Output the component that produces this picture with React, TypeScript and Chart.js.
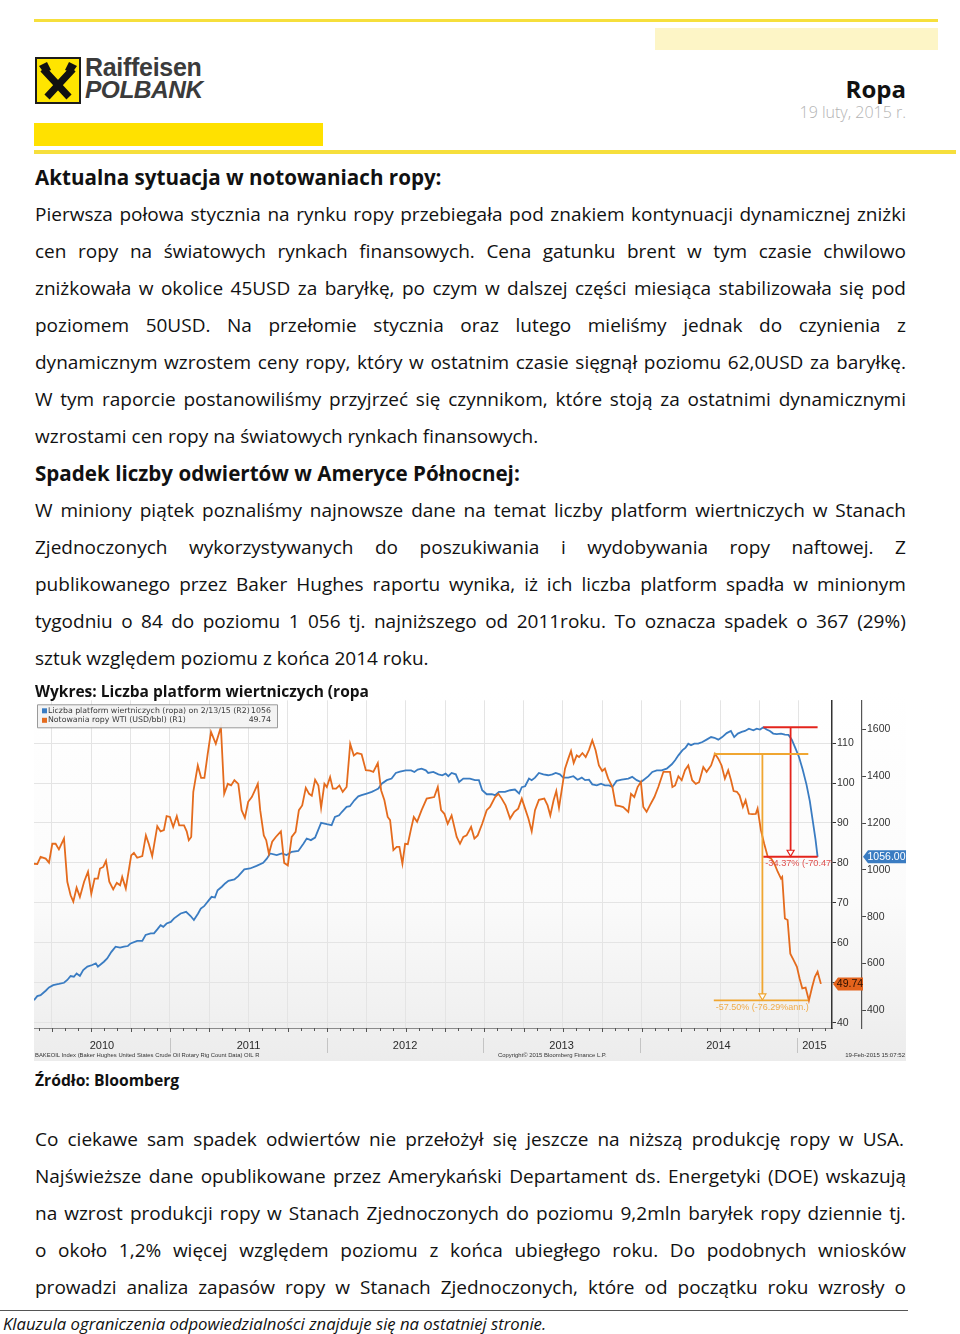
import { useEffect, useRef } from "react";
import { Chart, registerables } from "chart.js";
Chart.register(...registerables);

// ---------------- chart data (x = weeks since mid-Feb 2010) ----------------
const wtiWeeks = [
  0, 1.1, 2.2, 3.9, 5, 6.1, 7.2, 8.3, 10, 11.1, 12.2, 13.1, 14.2, 15.3, 16.7, 18, 19.1, 20.2, 21.3, 22, 23.1, 24, 25.1, 26.4, 27.6, 28.7, 29.4, 30.6, 32.4, 33.3, 34.4, 36.1, 37.3, 38.3, 39.4, 41.1, 42.2, 43.3, 44.2, 45.3, 46.4, 47.6, 48.4, 50, 50.9, 51.6, 52.4, 53.1,
  54.6, 55.7, 56.8, 57.9, 59, 60.6, 62.3, 63.4, 64.6, 65.7, 66.8, 68.1, 69.2, 70.3, 71.4, 72.6, 73.4, 74.6, 75.4, 76.6, 77.4, 78.3, 79.4, 80.6, 82.3, 83.4, 84.6, 85.9, 87.2, 88.3, 89.4, 90.6, 91.7, 92.6, 93.7, 94.8, 95.7, 96.8, 97.6, 98.7, 99.6, 100.7, 101.8, 102.9, 104.2, 105.4, 106.6, 107.7, 109.2,
  110.6, 112, 113.1, 114.6, 115.7, 116.8, 117.9, 118.7, 119.8, 120.9, 121.8, 122.8, 123.7, 124.6, 125.7, 126.6, 127.7, 129.2, 130.9, 132, 133.4, 134.6, 135.7, 136.8, 137.9, 139.2, 140.9, 142, 143.1, 144.2, 145.7, 146.8, 147.9, 149.4, 150.9, 152, 153.7, 154.8, 155.9, 157.2, 158.7, 160.1, 161.4, 162.6, 163.7,
  164.8, 165.9, 167, 168.3, 170.1, 171.2, 172.1, 173.2, 174.1, 175, 175.9, 177, 178.1, 179, 179.9, 180.9, 181.7, 182.8, 183.9, 185, 186.1, 187.2, 188.3, 189.4, 190.3, 191.4, 192.8, 193.9, 195.3, 196.4, 198.1, 199, 200.1, 201.2, 202.3, 203.1, 204.2, 205.3, 206.8, 208.1, 209.8, 211.2, 212, 212.8, 213.7,
  214.8, 215.9, 217, 218.1, 219.4, 220.6, 221.7, 223.1, 224.2, 225.7, 227, 228.1, 229.2, 230.3, 231.4, 232.3, 233.2, 234.3, 235.2, 236.3, 237.2, 238.3, 239.4, 240.6, 241.2, 242.3, 243.4, 244.6, 245.7, 246.8, 247.9, 249, 249.4, 250.3, 251.2, 252.1, 253.2, 254.3, 255.2, 256.1, 257.2, 258.3, 259.4, 260.3, 261.2, 262.3,
];
const wtiPrices = [
  79.8, 79.7, 81.5, 81.1, 80.1, 84.8, 84.8, 83.4, 86.1, 75.3, 71.9, 70.3, 73.8, 71.5, 75.3, 77.8, 72.3, 76.1, 76.1, 78.6, 79, 80.5, 75.3, 73.4, 75, 74.4, 76.5, 73.6, 81.9, 82.5, 81.3, 81.7, 86.9, 84.7, 81.7, 89.2, 87.9, 88.2, 91.7, 91.5, 89, 91.7, 89.4, 89.4, 87.9, 85.7, 86.5, 97.8,
  104.4, 101.3, 101.3, 107.3, 112.8, 109.8, 114, 97.3, 99.8, 99.4, 100.7, 99.8, 93.2, 91.3, 95.3, 96.5, 97.8, 99.8, 93.2, 86.9, 85.7, 82.3, 85.3, 86.5, 87.9, 80, 79.4, 86.5, 87.8, 93.2, 94.4, 98.8, 97.3, 96.8, 100.8, 99.4, 93.8, 99.8, 99, 101.5, 98.6, 98.6, 99.4, 97.8, 99, 109.8, 106.9, 107.5, 107.2,
  103.2, 103.1, 102.8, 105, 98.2, 95.7, 91.5, 90.7, 83.2, 84, 84, 79.8, 84.8, 84.7, 88.6, 91.5, 90.3, 93.2, 96.1, 96.3, 96.5, 99, 93.2, 92.3, 89.8, 91.9, 86.5, 84.8, 86.5, 86.9, 89, 86.1, 86.9, 89.8, 93.2, 94, 96.5, 97.3, 96.1, 94.4, 91.1, 92.8, 93.6, 96.1, 93.6,
  91.1, 87.9, 93.2, 95.8, 96.1, 94.4, 91.9, 95.7, 98, 93.8, 98.2, 103.6, 106.1, 108, 105, 106.9, 106.5, 107.5, 106.5, 108.3, 110.7, 108.2, 104.4, 103, 103.6, 101.1, 99, 94.4, 94.2, 94, 92.8, 97.3, 96.5, 99, 100.3, 94, 92.8, 94.4, 96.5, 99, 102.8, 102.8, 102.8, 99, 99.4,
  101.7, 100.7, 103.2, 104.4, 100.7, 99.8, 100.2, 104, 102.8, 104.4, 107.3, 106.1, 104.4, 101.1, 103.2, 100.8, 98, 97.8, 96.9, 94, 95.7, 92.3, 92.2, 92.3, 93.6, 88.2, 84.8, 81.5, 81.1, 79.8, 77.8, 76.1, 76.5, 66.1, 65.7, 57.3, 55.7, 54, 51.1, 48.6, 48.8, 45.6, 49, 51.5, 52.8, 49.74,
];
const rigWeeks = [
  0, 1.1, 2.2, 3.9, 5, 6.4, 8.3, 10, 11.1, 12.2, 13.3, 14.2, 15.3, 16.4, 17.8, 19.4, 20.6, 21.3, 23.3, 24.4, 25.8, 27.2, 28.7, 30, 31.3, 32.2, 34.4, 36.1, 37.2, 38.9, 40, 41.1, 42.2, 43.1, 44.2, 45.6, 46.7, 48.9, 50.7, 52.2, 53.3, 54.7, 55.6, 56.7,
  58.3, 59.2, 60.3, 61.2, 62.6, 63.7, 64.8, 66.8, 68.1, 70.1, 72, 74.2, 76.4, 77.6, 78.7, 80.9, 82.6, 84.2, 85.9, 88.1, 89.8, 90.9, 92.3, 93.7, 95.7, 97.6, 99.2, 100.3, 101.7, 102.6, 104.2, 105.3, 106.8,
  108.1, 109.2, 110.9, 112.6, 113.7, 114.8, 115.9, 117.6, 119.2, 120.6, 122, 123.9, 125.7, 126.8, 127.9, 129.2, 130.6, 131.4, 133.1, 134.8, 136.1, 137.2, 138.1, 139.2, 140.6, 141.7, 143.1, 145.3, 147, 148.3, 149.4, 150.9, 152.6, 153.7, 155, 157, 158.7, 160.3, 161.7, 162.6, 163.7,
  165, 165.9, 167, 168.3, 169.8, 171.4, 172.8, 173.9, 175.3, 176.4, 178.1, 179.8, 181.2, 182.6, 183.7, 185, 186.1, 187.6, 189, 190.3, 191.7, 192.8, 194.2, 195.9, 198.1, 199.4, 200.9, 202.3, 203.1, 204.8, 206.1, 207.6, 209.2, 210.9, 212.6, 213.7,
  214.8, 216.1, 217.2, 218.1, 219, 220.1, 221.4, 222.8, 224.2, 225.7, 226.8, 228.1, 229.4, 230.9, 232.3, 233.4, 234.6, 235.9, 237, 238.3, 239.8, 240.9, 242, 243.1, 244.2, 245.3, 246.4, 247.6, 249, 250.3, 251.5, 252.6, 253.9, 255, 256.2, 257.5, 258.6, 259.7, 260.5, 261.2,
];
const rigCounts = [
  444, 461, 465, 484, 498, 508, 513, 518, 530, 547, 544, 558, 547, 572, 587, 594, 601, 587, 608, 622, 650, 672, 668, 672, 675, 686, 697, 697, 722, 729, 729, 746, 764, 757, 771, 778, 793, 814, 821, 803, 786, 814, 835, 845,
  871, 885, 882, 913, 928, 942, 953, 959, 973, 1002, 1006, 1017, 1030, 1048, 1070, 1063, 1070, 1063, 1077, 1081, 1112, 1134, 1127, 1138, 1201, 1195, 1191, 1226, 1233, 1247, 1269, 1272, 1297,
  1314, 1319, 1326, 1333, 1340, 1347, 1368, 1383, 1390, 1414, 1419, 1425, 1425, 1418, 1428, 1432, 1425, 1414, 1418, 1408, 1404, 1411, 1400, 1414, 1408, 1375, 1390, 1390, 1383, 1383, 1340, 1323, 1323, 1319, 1333, 1333, 1340, 1343, 1326, 1353, 1357,
  1390, 1383, 1394, 1414, 1408, 1404, 1408, 1414, 1408, 1394, 1394, 1400, 1385, 1394, 1383, 1385, 1365, 1361, 1368, 1361, 1361, 1354, 1380, 1385, 1390, 1397, 1383, 1375, 1383, 1400, 1418, 1425, 1425, 1432, 1451, 1468,
  1489, 1510, 1522, 1539, 1532, 1539, 1539, 1546, 1556, 1567, 1564, 1556, 1567, 1584, 1593, 1567, 1582, 1589, 1593, 1603, 1596, 1603, 1599, 1609, 1599, 1593, 1582, 1580, 1582, 1577, 1576, 1556, 1517, 1482, 1430, 1364, 1294, 1200, 1130, 1056,
];

const yearLabels = ["2010", "2011", "2012", "2013", "2014", "2015"];
const yearStartWeeks = [45.3, 97.7, 149.7, 202.0, 254.3];
const wtiTicks = [40, 50, 60, 70, 80, 90, 100, 110];
const rigTicks = [400, 600, 800, 1000, 1200, 1400, 1600];
const legendLabels = ["Liczba platform wiertniczych (ropa) on 2/13/15 (R2)", "Notowania ropy WTI (USD/bbl) (R1)"];
const legendValues = ["1056", "49.74"];
const lastTags = ["1056.00", "49.74"];
const rigDrop = [1609, 1056]; // high, low
const rigDropWeeks = [243.1, 261.2, 252.2]; // from, to, arrow
const rigDropLabel = "-34.37% (-70.47%ann.)";
const wtiDrop = [107.26, 45.59];
const wtiDropWeeks = [226.6, 258.1, 242.8];
const wtiDropLabel = "-57.50% (-76.29%ann.)";
const footerTexts = [
  "BAKEOIL Index (Baker Hughes United States Crude Oil Rotary Rig Count Data) OIL R",
  "Copyright\u00a9 2015 Bloomberg Finance L.P.",
  "19-Feb-2015 15:07:52",
];

const BLUE = "#3a7cc2";
const ORANGE = "#e46b1d";
const RED = "#e3241c";
const GOLD = "#f0a631";

function fitFont(ctx: CanvasRenderingContext2D, text: string, target: number, family: string, weight = "") {
  ctx.font = `${weight} 10px ${family}`;
  const w = ctx.measureText(text).width;
  const size = (10 * target) / w;
  ctx.font = `${weight} ${size}px ${family}`;
  return size;
}

const decor = {
  id: "decor",
  beforeDraw(chart: any) {
    const { ctx, width, height } = chart;
    ctx.save();
    const g = ctx.createLinearGradient(0, 0, 0, height);
    g.addColorStop(0, "#ffffff");
    g.addColorStop(0.55, "#fbfbfb");
    g.addColorStop(1, "#ececec");
    ctx.fillStyle = g;
    ctx.fillRect(0, 0, width, height);
    ctx.restore();
  },
  afterDatasetsDraw(chart: any) {
    const { ctx, chartArea: ca } = chart;
    const x = chart.scales.x, y1 = chart.scales.y1, y2 = chart.scales.y2;
    const tri = (px: number, pyb: number, color: string) => {
      ctx.beginPath();
      ctx.moveTo(px - 3.5, pyb - 6);
      ctx.lineTo(px + 3.5, pyb - 6);
      ctx.lineTo(px, pyb);
      ctx.closePath();
      ctx.fillStyle = "#fff";
      ctx.fill();
      ctx.strokeStyle = color;
      ctx.lineWidth = 1.2;
      ctx.stroke();
    };
    const bracket = (top: number, bot: number, w0: number, w1: number, wa: number, color: string, label: string, labelColor: string, fitChars: number, fitW: number) => {
      const x0 = x.getPixelForValue(w0), x1 = x.getPixelForValue(w1), xa = x.getPixelForValue(wa);
      ctx.save();
      ctx.strokeStyle = color;
      ctx.lineWidth = 1.8;
      ctx.beginPath();
      ctx.moveTo(x0, top); ctx.lineTo(x1, top);
      ctx.moveTo(x0, bot); ctx.lineTo(x1, bot);
      ctx.moveTo(xa, top); ctx.lineTo(xa, bot - 5);
      ctx.stroke();
      tri(xa, bot - 0.5, color);
      ctx.beginPath();
      ctx.rect(ca.left, ca.top, ca.right - ca.left, ca.bottom - ca.top);
      ctx.clip();
      fitFont(ctx, label.slice(0, fitChars), fitW, "'Liberation Sans'");
      ctx.fillStyle = labelColor;
      ctx.textBaseline = "top";
      ctx.fillText(label, x0 + 2, bot + 2.5);
      ctx.restore();
    };
    bracket(y2.getPixelForValue(rigDrop[0]), y2.getPixelForValue(rigDrop[1]), rigDropWeeks[0], rigDropWeeks[1], rigDropWeeks[2], RED, rigDropLabel, "#e0504e", 15, 66);
    bracket(y1.getPixelForValue(wtiDrop[0]), y1.getPixelForValue(wtiDrop[1]), wtiDropWeeks[0], wtiDropWeeks[1], wtiDropWeeks[2], GOLD, wtiDropLabel, "#f0ac4a", 21, 93);
  },
  afterDraw(chart: any) {
    const { ctx, chartArea: ca, width } = chart;
    const x = chart.scales.x, y1 = chart.scales.y1, y2 = chart.scales.y2;
    ctx.save();
    // monthly tick marks under the time axis
    ctx.strokeStyle = "#555";
    ctx.lineWidth = 1;
    const perMonth = (yearStartWeeks[1] - yearStartWeeks[0]) / 12;
    for (let k = -12; k <= 12 * 5; k++) {
      const w = yearStartWeeks[0] + k * perMonth;
      if (w < x.min || w > x.max) continue;
      const px = Math.round(x.getPixelForValue(w)) + 0.5;
      ctx.beginPath();
      ctx.moveTo(px, ca.bottom);
      ctx.lineTo(px, ca.bottom + (k % 3 === 0 ? 4 : 3));
      ctx.stroke();
    }
    // year separators and labels
    ctx.strokeStyle = "#c4c4c4";
    yearStartWeeks.forEach((w) => {
      const px = Math.round(x.getPixelForValue(w)) + 0.5;
      ctx.beginPath();
      ctx.moveTo(px, ca.bottom + 10);
      ctx.lineTo(px, ca.bottom + 25);
      ctx.stroke();
    });
    const bounds = [x.min, ...yearStartWeeks, x.max];
    ctx.fillStyle = "#2a2a2a";
    ctx.font = "11px 'Liberation Sans'";
    ctx.textAlign = "center";
    ctx.textBaseline = "middle";
    yearLabels.forEach((lab, i) => {
      const c = (bounds[i] + bounds[i + 1]) / 2;
      ctx.fillText(lab, x.getPixelForValue(c), ca.bottom + 17.5);
    });
    // footer texts
    ctx.textAlign = "left";
    ctx.fillStyle = "#333";
    fitFont(ctx, footerTexts[0], 225, "'Liberation Sans'");
    ctx.fillText(footerTexts[0], 1, ca.bottom + 27.5);
    fitFont(ctx, footerTexts[1], 109, "'Liberation Sans'");
    ctx.fillText(footerTexts[1], 464, ca.bottom + 27.5);
    fitFont(ctx, footerTexts[2], 60, "'Liberation Sans'");
    ctx.textAlign = "right";
    ctx.fillText(footerTexts[2], width - 1, ca.bottom + 27.5);

    // last value tags
    const tag = (x0: number, x1: number, yc: number, h: number, fill: string, text: string, color: string) => {
      ctx.beginPath();
      ctx.moveTo(x0, yc);
      ctx.lineTo(x0 + 5, yc - h / 2);
      ctx.lineTo(x1, yc - h / 2);
      ctx.lineTo(x1, yc + h / 2);
      ctx.lineTo(x0 + 5, yc + h / 2);
      ctx.closePath();
      ctx.fillStyle = fill;
      ctx.fill();
      ctx.fillStyle = color;
      ctx.font = "10.5px 'Liberation Sans'";
      ctx.textAlign = "center";
      ctx.textBaseline = "middle";
      ctx.fillText(text, (x0 + 4 + x1) / 2, yc + 0.5);
    };
    tag(y2.left + 1, width, y2.getPixelForValue(rigDrop[1]), 13, BLUE, lastTags[0], "#ffffff");
    tag(y1.left + 1, y1.right + 1, y1.getPixelForValue(wtiPrices[wtiPrices.length - 1]), 13, "#e4631c", lastTags[1], "#2b1000");

    // legend box
    const bx = 3, by = ca.top + 4, bw = 240, bh = 23;
    ctx.fillStyle = "rgba(242,242,242,0.93)";
    ctx.strokeStyle = "#9a9a9a";
    ctx.lineWidth = 1;
    ctx.beginPath();
    ctx.rect(bx + 0.5, by + 0.5, bw, bh);
    ctx.fill();
    ctx.stroke();
    ctx.textAlign = "left";
    ctx.textBaseline = "middle";
    const fs = fitFont(ctx, legendLabels[0], 202, "'DejaVu Sans'");
    const rows = [by + 6.5, by + 16];
    [BLUE, ORANGE].forEach((c, i) => {
      ctx.fillStyle = c;
      ctx.fillRect(bx + 5, rows[i] - 2.5, 5, 5);
      ctx.fillStyle = "#3a3a3a";
      ctx.font = `${fs}px 'DejaVu Sans'`;
      ctx.textAlign = "left";
      ctx.fillText(legendLabels[i], bx + 11, rows[i]);
      ctx.textAlign = "right";
      ctx.fillText(legendValues[i], bx + bw - 6, rows[i]);
    });
    ctx.restore();
  },
};

// ---------------- page text ----------------
const para1 = [
  "Pierwsza połowa stycznia na rynku ropy przebiegała pod znakiem kontynuacji dynamicznej zniżki",
  "cen ropy na światowych rynkach finansowych. Cena gatunku brent w tym czasie chwilowo",
  "zniżkowała w okolice 45USD za baryłkę, po czym w dalszej części miesiąca stabilizowała się pod",
  "poziomem 50USD. Na przełomie stycznia oraz lutego mieliśmy jednak do czynienia z",
  "dynamicznym wzrostem ceny ropy, który w ostatnim czasie sięgnął poziomu 62,0USD za baryłkę.",
  "W tym raporcie postanowiliśmy przyjrzeć się czynnikom, które stoją za ostatnimi dynamicznymi",
  "wzrostami cen ropy na światowych rynkach finansowych.",
];
const para2 = [
  "W miniony piątek poznaliśmy najnowsze dane na temat liczby platform wiertniczych w Stanach",
  "Zjednoczonych wykorzystywanych do poszukiwania i wydobywania ropy naftowej. Z",
  "publikowanego przez Baker Hughes raportu wynika, iż ich liczba platform spadła w minionym",
  "tygodniu o 84 do poziomu 1 056 tj. najniższego od 2011roku. To oznacza spadek o 367 (29%)",
  "sztuk względem poziomu z końca 2014 roku.",
];
const para3 = [
  "Co ciekawe sam spadek odwiertów nie przełożył się jeszcze na niższą produkcję ropy w USA.",
  "Najświeższe dane opublikowane przez Amerykański Departament ds. Energetyki (DOE) wskazują",
  "na wzrost produkcji ropy w Stanach Zjednoczonych do poziomu 9,2mln baryłek ropy dziennie tj.",
  "o około 1,2% więcej względem poziomu z końca ubiegłego roku. Do podobnych wniosków",
  "prowadzi analiza zapasów ropy w Stanach Zjednoczonych, które od początku roku wzrosły o",
];

const FONT = "'Open Sans', sans-serif";

function TextLine({ text, y, justify, width = 871 }: { text: string; y: number; justify: boolean; width?: number }) {
  const base: any = { position: "absolute", left: 35, top: y - 15, height: 30, lineHeight: "30px", fontSize: 19, whiteSpace: "nowrap" };
  if (!justify) return <div style={base}>{text}</div>;
  return (
    <div style={{ ...base, width, display: "flex", justifyContent: "space-between" }}>
      {text.split(" ").map((w, i) => (
        <span key={i}>{w}</span>
      ))}
    </div>
  );
}

function Paragraph({ lines, y0, lastJustified }: { lines: string[]; y0: number; lastJustified: boolean }) {
  return (
    <>
      {lines.map((t, i) => (
        <TextLine key={i} text={t} y={y0 + i * 37} justify={i < lines.length - 1 || lastJustified} width={i === 0 && y0 > 1100 ? 869 : 871} />
      ))}
    </>
  );
}

function Logo() {
  return (
    <div style={{ position: "absolute", left: 35, top: 57, width: 180, height: 48 }}>
      <svg width="46" height="47" viewBox="0 0 46 47" style={{ position: "absolute", left: 0, top: 0 }}>
        <rect x="1" y="1" width="44" height="45" fill="#ffe500" stroke="#1c1c1c" strokeWidth="2" />
        <path d="M8 12 L34 40 M38 12 L12 40" stroke="#111" strokeWidth="7" strokeLinecap="butt" />
        <path d="M4 9 L12 5 L16 13 L9 16 Z M42 9 L34 5 L30 13 L37 16 Z" fill="#111" />
      </svg>
      <div style={{ position: "absolute", left: 50, top: -4, fontFamily: "'Liberation Sans'", fontWeight: 700, fontSize: 25, color: "#3b3b3b", lineHeight: "28px", letterSpacing: -0.3 }}>Raiffeisen</div>
      <div style={{ position: "absolute", left: 50, top: 19, fontFamily: "'Liberation Sans'", fontWeight: 700, fontStyle: "italic", fontSize: 24.5, color: "#3b3b3b", lineHeight: "28px", letterSpacing: -0.5 }}>POLBANK</div>
    </div>
  );
}

export default function App() {
  const ref = useRef<HTMLCanvasElement>(null);
  useEffect(() => {
    const chart = new Chart(ref.current as HTMLCanvasElement, {
      type: "line",
      data: {
        datasets: [
          {
            label: legendLabels[1],
            data: wtiWeeks.map((w, i) => ({ x: w, y: wtiPrices[i] })),
            yAxisID: "y1",
            borderColor: ORANGE,
            borderWidth: 1.8,
            pointRadius: 0,
            tension: 0,
          },
          {
            label: legendLabels[0],
            data: rigWeeks.map((w, i) => ({ x: w, y: rigCounts[i] })),
            yAxisID: "y2",
            borderColor: BLUE,
            borderWidth: 1.8,
            pointRadius: 0,
            tension: 0,
          },
        ],
      },
      options: {
        animation: false,
        responsive: false,
        layout: { padding: { top: 7, left: 0, right: 0, bottom: 0 } },
        plugins: { legend: { display: false }, tooltip: { enabled: false } },
        scales: {
          x: {
            type: "linear",
            min: 0,
            max: 266,
            afterBuildTicks: (s: any) => {
              const q = (yearStartWeeks[1] - yearStartWeeks[0]) / 4;
              const t: any[] = [];
              for (let k = -4; k <= 20; k++) {
                const v = yearStartWeeks[0] + k * q;
                if (v > 0.5 && v < 265.5) t.push({ value: v });
              }
              s.ticks = t;
            },
            grid: { color: "#e4e4e4", drawTicks: false },
            border: { color: "#8a8a8a" },
            ticks: { display: false },
            afterFit: (s: any) => {
              s.height = 33;
            },
          },
          y1: {
            type: "linear",
            position: "right",
            weight: 0,
            min: 38.7,
            max: 120.7,
            afterBuildTicks: (s: any) => {
              s.ticks = wtiTicks.map((v) => ({ value: v }));
            },
            grid: { color: "#e4e4e4", tickColor: "#333", tickLength: 4 },
            border: { color: "#333", width: 1.5 },
            ticks: { color: "#333", padding: 1, font: { family: "'Liberation Sans'", size: 10.5 }, callback: (v: any) => String(v) },
            afterFit: (s: any) => {
              s.width = 30;
            },
          },
          y2: {
            type: "linear",
            position: "right",
            weight: 1,
            min: 325,
            max: 1724,
            afterBuildTicks: (s: any) => {
              s.ticks = rigTicks.map((v) => ({ value: v }));
            },
            grid: { drawOnChartArea: false, tickColor: "#444", tickLength: 4 },
            border: { color: "#555", width: 1.2 },
            ticks: { color: "#333", padding: 1, font: { family: "'Liberation Sans'", size: 10.5 }, callback: (v: any) => String(v) },
            afterFit: (s: any) => {
              s.width = 44;
            },
          },
        },
      } as any,
      plugins: [decor],
    });
    return () => chart.destroy();
  }, []);

  return (
    <div style={{ position: "absolute", left: 0, top: 0, width: 960, height: 1334, background: "#fff", overflow: "hidden", fontFamily: FONT, color: "#111" }}>
      {/* header decorations */}
      <div style={{ position: "absolute", left: 34, top: 19, width: 904, height: 3, background: "#f6df3c" }} />
      <div style={{ position: "absolute", left: 655, top: 28, width: 283, height: 22, background: "#fdf5c6" }} />
      <div style={{ position: "absolute", left: 34, top: 123, width: 289, height: 23, background: "#ffe100" }} />
      <div style={{ position: "absolute", left: 34, top: 150, width: 922, height: 4, background: "#f6df3c" }} />
      <Logo />
      <div style={{ position: "absolute", right: 54, top: 74, fontSize: 24, fontWeight: 700, lineHeight: "30px" }}>Ropa</div>
      <div style={{ position: "absolute", right: 54, top: 102, fontSize: 16, fontWeight: 300, color: "#b3b3b3", lineHeight: "20px" }}>19 luty, 2015 r.</div>

      <div style={{ position: "absolute", left: 35, top: 162, fontSize: 20.6, fontWeight: 700, lineHeight: "30px" }}>Aktualna sytuacja w notowaniach ropy:</div>
      <Paragraph lines={para1} y0={214} lastJustified={false} />
      <div style={{ position: "absolute", left: 35, top: 458, fontSize: 20.6, fontWeight: 700, lineHeight: "30px" }}>Spadek liczby odwiertów w Ameryce Północnej:</div>
      <Paragraph lines={para2} y0={510} lastJustified={false} />

      <canvas ref={ref} width={872} height={368} style={{ position: "absolute", left: 34, top: 693, width: 872, height: 368 }} />

      <div style={{ position: "absolute", left: 35, top: 680, fontSize: 15.5, fontWeight: 700, lineHeight: "22px" }}>Wykres: Liczba platform wiertniczych (ropa</div>
      <div style={{ position: "absolute", left: 35, top: 1069, fontSize: 15.7, fontWeight: 700, lineHeight: "22px" }}>Źródło: Bloomberg</div>
      <Paragraph lines={para3} y0={1139} lastJustified={true} />

      <div style={{ position: "absolute", left: 0, top: 1310, width: 908, height: 1, background: "#555" }} />
      <div style={{ position: "absolute", left: 3, top: 1313, fontSize: 16.7, fontStyle: "italic", lineHeight: "22px" }}>Klauzula ograniczenia odpowiedzialności znajduje się na ostatniej stronie.</div>
    </div>
  );
}
